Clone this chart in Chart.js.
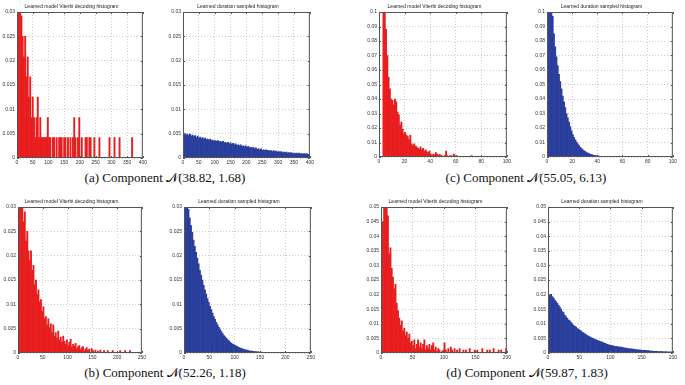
<!DOCTYPE html>
<html lang="en">
<head>
  <meta charset="UTF-8">
  <title>Duration histograms</title>
  <script src="https://cdn.jsdelivr.net/npm/chart.js"></script>
  <style>
    * { margin: 0; padding: 0; }
    body { width: 685px; height: 385px; background: #fff; position: relative; overflow: hidden; }
    canvas { position: absolute; }
    .caption {
      position: absolute;
      font-family: 'Liberation Serif', 'DejaVu Serif', serif;
      font-size: 13px;
      color: #111;
      white-space: nowrap;
      transform: translateX(-50%);
    }
  </style>
</head>
<body>
  <div class="caption" style="left:165px; top:170px;">(a) Component 𝒩(38.82, 1.68)</div>
  <div class="caption" style="left:526px; top:170px;">(c) Component 𝒩(55.05, 6.13)</div>
  <div class="caption" style="left:165px; top:365px;">(b) Component 𝒩(52.26, 1.18)</div>
  <div class="caption" style="left:527px; top:365px;">(d) Component 𝒩(59.87, 1.83)</div>

  <script>
    // ---- data (bar heights, one value per bin) ----
    const titleViterbi = 'Learned model Viterbi decoding histogram';
    const titleSampled = 'Learned duration sampled histogram';

    // (a) bins of width 4
    const binA = 4;
    const aViterbi = [
      0.0417, 0.0375, 0.0333, 0.0292, 0.025, 0.0208, 0.025, 0.0167, 0.0208, 0.0125,
      0.0167, 0.0083, 0.0125, 0.0083, 0.0042, 0.0083, 0.0125, 0.0042, 0.0083, 0.0042,
      0.0042, 0.0042, 0.0042, 0.0042, 0.0083, 0.0042, 0.0042, 0, 0.0042, 0.0042,
      0, 0.0042, 0, 0.0042, 0.0042, 0.0042, 0, 0.0042, 0.0042, 0,
      0.0042, 0, 0.0042, 0, 0.0042, 0.0083, 0.0042, 0, 0.0042, 0.0083,
      0, 0.0042, 0, 0, 0.0042, 0.0042, 0, 0.0042, 0.0042, 0,
      0, 0.0042, 0, 0, 0, 0.0042, 0, 0, 0, 0,
      0, 0, 0, 0.0042, 0, 0, 0, 0.0042, 0, 0,
      0, 0.0042, 0, 0, 0, 0, 0, 0, 0, 0,
      0, 0.0042, 0, 0, 0, 0, 0, 0, 0, 0
    ];
    const aSampled = [
      0.0048, 0.0050, 0.0047, 0.0049, 0.0046, 0.0049, 0.0045, 0.0047, 0.0044, 0.0046,
      0.0042, 0.0045, 0.0041, 0.0043, 0.0040, 0.0042, 0.0039, 0.0041, 0.0038, 0.0039,
      0.0037, 0.0039, 0.0036, 0.0037, 0.0035, 0.0036, 0.0034, 0.0036, 0.0033, 0.0034,
      0.0032, 0.0034, 0.0031, 0.0032, 0.0030, 0.0032, 0.0029, 0.0031, 0.0028, 0.0030,
      0.0027, 0.0029, 0.0026, 0.0027, 0.0025, 0.0027, 0.0024, 0.0025, 0.0023, 0.0025,
      0.0022, 0.0024, 0.0021, 0.0022, 0.0020, 0.0022, 0.0019, 0.0021, 0.0018, 0.0019,
      0.0017, 0.0019, 0.0016, 0.0017, 0.0016, 0.0017, 0.0015, 0.0016, 0.0014, 0.0015,
      0.0013, 0.0015, 0.0013, 0.0014, 0.0012, 0.0013, 0.0012, 0.0013, 0.0011, 0.0012,
      0.0011, 0.0012, 0.0010, 0.0011, 0.0010, 0.0011, 0.0009, 0.0010, 0.0009, 0.0010,
      0.0009, 0.0010, 0.0008, 0.0009, 0.0008, 0.0009, 0.0008, 0.0009, 0.0007, 0.0008
    ];
    const xTicksA = [0, 50, 100, 150, 200, 250, 300, 350, 400];
    const yTicksA = [0, 0.005, 0.01, 0.015, 0.02, 0.025, 0.03];

    // (b) bins of width 2.5
    const binB = 2.5;
    const bViterbi = [
      0.020, 0.036, 0.034, 0.031, 0.027, 0.029, 0.023, 0.025, 0.021, 0.019,
      0.021, 0.017, 0.018, 0.014, 0.015, 0.012, 0.013, 0.0105, 0.011, 0.0085,
      0.0095, 0.007, 0.0075, 0.0058, 0.007, 0.0052, 0.006, 0.0042, 0.0058, 0.0035,
      0.0042, 0.003, 0.0045, 0.0026, 0.0032, 0.0022, 0.0035, 0.0024, 0.0018, 0.0027,
      0.0015, 0.0022, 0.0028, 0.0012, 0.0018, 0.0014, 0.002, 0.0009, 0.0013, 0.0015,
      0.0007, 0.0011, 0.0013, 0.0004, 0.0008, 0.0011, 0.0005, 0.0008, 0, 0.0009,
      0.0005, 0, 0.0006, 0, 0.0004, 0, 0.0006, 0, 0, 0.0005,
      0, 0, 0.0005, 0, 0, 0, 0.0005, 0, 0, 0,
      0, 0, 0.0005, 0, 0, 0, 0.0005, 0, 0, 0,
      0.0005, 0, 0, 0, 0, 0, 0, 0, 0, 0
    ];
    const bSampled = [
      0.033, 0.034, 0.032, 0.0295, 0.0278, 0.0262, 0.0248, 0.0232, 0.0219, 0.0207,
      0.0195, 0.0183, 0.0170, 0.0160, 0.0150, 0.0139, 0.0130, 0.0121, 0.0112, 0.0104,
      0.0096, 0.0089, 0.0082, 0.0075, 0.0069, 0.0063, 0.0058, 0.0053, 0.0048, 0.0044,
      0.0040, 0.0036, 0.0033, 0.0030, 0.0027, 0.0025, 0.0022, 0.0020, 0.0018, 0.0017,
      0.0015, 0.0014, 0.0012, 0.0011, 0.0010, 0.0009, 0.0008, 0.0007, 0.00065, 0.0006,
      0.0005, 0.00045, 0.0004, 0.00037, 0.00033, 0.0003, 0.00027, 0.00024, 0.00022, 0.0002,
      0.00018, 0.00016, 0.00014, 0.00012, 0.0001, 0.00009, 0.00008, 0.00007, 0.00006, 0.00005,
      0.00004, 0.00003, 0.00003, 0.00002
    ];
    const xTicksB = [0, 50, 100, 150, 200, 250];
    const yTicksB = [0, 0.005, 0.01, 0.015, 0.02, 0.025, 0.03];

    // (c) bins of width 1
    const binC = 1;
    const cViterbi = [
      0, 0, 0, 0.13, 0.11, 0.088, 0.07, 0.055, 0.047, 0.040,
      0.039, 0.036, 0.040, 0.038, 0.031, 0.029, 0.022, 0.024, 0.019, 0.016,
      0.017, 0.015, 0.014, 0.012, 0.015, 0.009, 0.008, 0.009, 0.0075, 0.007,
      0.006, 0.0055, 0.007, 0.005, 0.006, 0.004, 0.005, 0.0035, 0.003, 0.004,
      0.002, 0.001, 0.002, 0.0015, 0.003, 0.002, 0.001, 0.0018, 0.001, 0.0008,
      0, 0.001, 0.004, 0.001, 0, 0.0008, 0.001, 0, 0.002, 0.001,
      0.0008, 0, 0.0005, 0, 0, 0.0005, 0, 0, 0, 0,
      0, 0, 0.001, 0, 0, 0, 0.0005, 0, 0, 0,
      0.0005, 0, 0, 0, 0, 0, 0, 0, 0.0005, 0,
      0, 0, 0, 0, 0, 0.0005, 0, 0, 0, 0
    ];
    const cSampled = [
      0, 0.135, 0.125, 0.110, 0.097, 0.085, 0.076, 0.069, 0.063, 0.057,
      0.052, 0.047, 0.042, 0.038, 0.034, 0.030, 0.027, 0.024, 0.021, 0.018,
      0.0155, 0.0135, 0.0118, 0.0103, 0.009, 0.0078, 0.0067, 0.0058, 0.005, 0.0043,
      0.0037, 0.0031, 0.0027, 0.0023, 0.0019, 0.0016, 0.0014, 0.0012, 0.001, 0.0008,
      0.0007, 0.0006, 0.0005, 0.0004, 0.0004, 0.0003, 0.0003, 0.0002, 0.0002, 0.0002,
      0.00015, 0.00012, 0.0001, 0.0001, 0.00008, 0.00006, 0.00005, 0.00004, 0.00003, 0.00002
    ];
    const xTicksC = [0, 20, 40, 60, 80, 100];
    const yTicksC = [0, 0.01, 0.02, 0.03, 0.04, 0.05, 0.06, 0.07, 0.08, 0.09, 0.1];

    // (d) bins of width 2
    const binD = 2;
    const dViterbi = [
      0, 0.045, 0.06, 0.058, 0.052, 0.047, 0.034, 0.036, 0.029, 0.026,
      0.022, 0.0235, 0.017, 0.0145, 0.012, 0.0095, 0.011, 0.0075, 0.0085, 0.006,
      0.0072, 0.005, 0.0065, 0.0035, 0.004, 0.0025, 0.0045, 0.0015, 0.003, 0.0045,
      0.002, 0.0035, 0.0015, 0.003, 0.0045, 0.001, 0.0025, 0.0015, 0.003, 0.001,
      0.0025, 0.0035, 0.001, 0.002, 0.0005, 0.0015, 0.001, 0, 0.0005, 0.001,
      0.0035, 0.001, 0, 0.0015, 0, 0.002, 0.001, 0, 0.0015, 0,
      0.001, 0, 0.0015, 0, 0, 0.001, 0, 0.001, 0, 0,
      0.0015, 0, 0, 0, 0.001, 0, 0.001, 0, 0, 0,
      0.0015, 0, 0, 0, 0.001, 0, 0.001, 0, 0, 0.0015,
      0, 0, 0, 0.001, 0, 0.001, 0, 0, 0, 0.0015
    ];
    const dSampled = [
      0.0200, 0.0198, 0.0201, 0.0193, 0.0188, 0.0181, 0.0176, 0.0170, 0.0163, 0.0157,
      0.0150, 0.0142, 0.0138, 0.0129, 0.0124, 0.0119, 0.0113, 0.0110, 0.0104, 0.0100,
      0.0095, 0.0091, 0.0089, 0.0084, 0.0082, 0.0078, 0.0076, 0.0071, 0.0069, 0.0066,
      0.0063, 0.0060, 0.0058, 0.0055, 0.0053, 0.0051, 0.0049, 0.0047, 0.0045, 0.0043,
      0.0042, 0.0040, 0.0038, 0.0037, 0.0035, 0.0033, 0.0031, 0.0030, 0.0028, 0.0027,
      0.0026, 0.0025, 0.0024, 0.0023, 0.0022, 0.0022, 0.0021, 0.0020, 0.0020, 0.0019,
      0.0018, 0.0017, 0.0017, 0.0016, 0.0015, 0.0014, 0.0014, 0.0013, 0.0013, 0.0012,
      0.0012, 0.0011, 0.0011, 0.0010, 0.0010, 0.0009, 0.0009, 0.0009, 0.0008, 0.0008,
      0.0008, 0.0007, 0.0007, 0.0007, 0.0006, 0.0006, 0.0006, 0.0006, 0.0005, 0.0005,
      0.0005, 0.0005, 0.0004, 0.0004, 0.0004, 0.0004, 0.0003, 0.0004, 0.0003, 0.0003
    ];
    const xTicksD = [0, 50, 100, 150, 200];
    const yTicksD = [0, 0.005, 0.01, 0.015, 0.02, 0.025, 0.03, 0.035, 0.04, 0.045, 0.05];

    // ---- styling / layout ----
    const red = 'rgb(232, 30, 30)';
    const blue = 'rgb(42, 62, 156)';
    const sansFont = "'Liberation Sans', Arial, sans-serif";
    const Y_AXIS_W = 17, X_AXIS_H = 9, TITLE_H = 10, PAD_R = 6;

    // plot area boxes in page pixels: left, top, right, bottom
    const panels = [
      { box: [17, 12, 143, 158],  title: titleViterbi, values: aViterbi, bin: binA, color: red,  xt: xTicksA, yt: yTicksA },
      { box: [183, 12, 310, 158], title: titleSampled, values: aSampled, bin: binA, color: blue, xt: xTicksA, yt: yTicksA },
      { box: [379, 12, 507, 157], title: titleViterbi, values: cViterbi, bin: binC, color: red,  xt: xTicksC, yt: yTicksC },
      { box: [547, 12, 673, 157], title: titleSampled, values: cSampled, bin: binC, color: blue, xt: xTicksC, yt: yTicksC },
      { box: [18, 207, 142, 353], title: titleViterbi, values: bViterbi, bin: binB, color: red,  xt: xTicksB, yt: yTicksB },
      { box: [184, 207, 311, 353], title: titleSampled, values: bSampled, bin: binB, color: blue, xt: xTicksB, yt: yTicksB },
      { box: [381, 207, 507, 353], title: titleViterbi, values: dViterbi, bin: binD, color: red,  xt: xTicksD, yt: yTicksD },
      { box: [548, 207, 673, 353], title: titleSampled, values: dSampled, bin: binD, color: blue, xt: xTicksD, yt: yTicksD }
    ];

    function fmt(v) { return String(Number(Number(v).toFixed(4))); }

    // MATLAB-like box with inward tick marks
    const framePlugin = {
      id: 'frame',
      afterDraw(chart) {
        const { ctx, chartArea: a, scales } = chart;
        ctx.save();
        ctx.strokeStyle = '#555';
        ctx.lineWidth = 1;
        ctx.strokeRect(a.left + 0.5, a.top + 0.5, a.width - 1, a.height - 1);
        ctx.beginPath();
        scales.x.ticks.forEach(t => {
          const px = Math.round(scales.x.getPixelForValue(t.value)) + 0.5;
          ctx.moveTo(px, a.bottom); ctx.lineTo(px, a.bottom - 2);
          ctx.moveTo(px, a.top); ctx.lineTo(px, a.top + 2);
        });
        scales.y.ticks.forEach(t => {
          const py = Math.round(scales.y.getPixelForValue(t.value)) + 0.5;
          ctx.moveTo(a.left, py); ctx.lineTo(a.left + 2, py);
          ctx.moveTo(a.right, py); ctx.lineTo(a.right - 2, py);
        });
        ctx.stroke();
        ctx.restore();
      }
    };

    panels.forEach(p => {
      const [l, t, r, b] = p.box;
      const canvas = document.createElement('canvas');
      canvas.width = (r - l) + Y_AXIS_W + PAD_R;
      canvas.height = (b - t) + TITLE_H + X_AXIS_H;
      canvas.style.left = (l - Y_AXIS_W) + 'px';
      canvas.style.top = (t - TITLE_H) + 'px';
      document.body.appendChild(canvas);

      const points = p.values.map((v, i) => ({ x: (i + 0.5) * p.bin, y: v }));

      new Chart(canvas, {
        type: 'bar',
        data: {
          datasets: [{
            data: points,
            backgroundColor: p.color,
            borderWidth: 0,
            barPercentage: 1,
            categoryPercentage: 1
          }]
        },
        options: {
          responsive: false,
          animation: false,
          layout: { padding: { right: PAD_R } },
          plugins: {
            legend: { display: false },
            tooltip: { enabled: false },
            title: {
              display: true,
              text: p.title,
              color: '#222',
              font: { family: sansFont, size: 5, weight: 'normal' },
              padding: { top: 2, bottom: 2 }
            }
          },
          scales: {
            x: {
              type: 'linear',
              min: p.xt[0],
              max: p.xt[p.xt.length - 1],
              offset: false,
              grid: { offset: false, color: '#b8b8b8', lineWidth: 0.7, drawTicks: false },
              border: { display: false, dash: [1, 2] },
              afterBuildTicks: s => { s.ticks = p.xt.map(v => ({ value: v })); },
              afterFit: s => { s.height = X_AXIS_H; },
              ticks: {
                font: { family: sansFont, size: 5 },
                color: '#333',
                padding: 2,
                maxRotation: 0,
                autoSkip: false,
                callback: v => fmt(v)
              }
            },
            y: {
              min: p.yt[0],
              max: p.yt[p.yt.length - 1],
              grid: { color: '#b8b8b8', lineWidth: 0.7, drawTicks: false },
              border: { display: false, dash: [1, 2] },
              afterBuildTicks: s => { s.ticks = p.yt.map(v => ({ value: v })); },
              afterFit: s => { s.width = Y_AXIS_W; },
              ticks: {
                font: { family: sansFont, size: 5 },
                color: '#333',
                padding: 2,
                autoSkip: false,
                callback: v => fmt(v)
              }
            }
          }
        },
        plugins: [framePlugin]
      });
    });
  </script>
</body>
</html>
